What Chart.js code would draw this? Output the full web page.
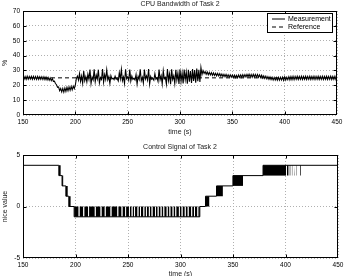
<!DOCTYPE html>
<html><head><meta charset="utf-8">
<script src="https://cdn.jsdelivr.net/npm/chart.js@4/dist/chart.umd.min.js"></script>
<style>
html,body{margin:0;padding:0;background:#fff;overflow:hidden;}
#wrap{position:relative;width:348px;height:276px;overflow:hidden;font-family:"Liberation Sans",Arial,Helvetica,sans-serif;}
.ttl{position:absolute;left:23px;width:314px;text-align:center;font-size:7px;color:#222;line-height:8px;white-space:nowrap;}
#c1{position:absolute;left:0;top:0;}
#c2{position:absolute;left:0;top:138px;}
#legend{position:absolute;left:267px;top:13px;width:64px;height:18px;border:1px solid #000;background:#fff;font-size:7px;color:#000;}
#legend .row{position:absolute;left:0;height:8px;line-height:8px;white-space:nowrap;}
#legend svg{position:absolute;left:4px;top:3px;}
#legend span{position:absolute;left:20px;top:0;}
</style></head><body>
<div id="wrap">
<canvas id="c1" width="348" height="138"></canvas>
<canvas id="c2" width="348" height="142"></canvas>
<div class="ttl" style="top:0px">CPU Bandwidth of Task 2</div>
<div class="ttl" style="top:143px">Control Signal of Task 2</div>
<div id="legend"></div>
</div>
<script>
// ---------- DATA ----------
const measStart = 150;   // first sample time (s)
const measStep = 1;      // sampling period (s)
const measValues = [
26.0,24.1,25.9,24.0,26.1,24.1,25.9,24.2,26.0,24.0,
26.0,24.1,25.9,24.0,26.0,24.0,25.8,24.1,25.8,23.9,
25.7,23.8,25.5,23.6,25.3,23.4,25.0,23.1,24.5,22.7,
22.8,21.2,20.4,18.7,18.9,16.4,17.8,15.6,17.9,15.4,
18.2,15.9,18.6,16.3,18.9,16.6,19.2,16.9,19.4,17.8,
20.1,24.6,26.2,23.5,27.9,22.6,26.2,21.4,29.6,23.1,
25.8,22.3,27.4,24.1,30.6,21.2,25.5,23.6,30.8,22.4,
26.8,24.2,30.5,21.6,25.2,23.9,30.9,22.1,27.2,24.0,
30.4,23.6,25.8,21.3,26.4,24.2,24.9,23.8,26.1,24.1,
24.6,22.9,28.4,24.3,30.7,23.1,25.6,21.2,30.8,24.4,
25.7,23.3,30.6,22.8,26.2,24.0,24.8,23.6,27.2,20.8,
26.0,23.9,30.8,23.1,25.4,21.5,30.6,24.2,26.3,23.5,
30.9,20.9,25.9,24.0,24.6,23.4,27.8,24.1,25.1,22.6,
30.6,23.8,26.4,20.9,29.7,24.3,25.3,20.8,30.9,23.2,
27.6,20.7,30.8,24.0,26.4,21.2,30.4,23.5,28.2,20.9,
30.7,22.6,28.3,21.3,30.6,23.8,28.9,21.0,30.5,22.4,
29.6,21.5,30.9,23.0,30.2,21.7,31.3,22.8,30.4,22.2,
32.0,27.2,29.9,28.0,29.3,27.4,29.0,27.1,28.7,27.0,
28.5,26.7,28.3,26.6,28.1,26.4,28.0,26.3,27.8,26.1,
27.6,25.9,27.4,25.8,27.3,25.6,27.1,25.5,27.0,25.4,
26.9,25.3,26.8,25.2,26.7,25.1,26.9,25.3,27.0,25.4,
27.1,25.5,27.2,25.6,27.3,25.7,27.4,25.6,27.3,25.5,
27.4,25.6,27.3,25.5,27.2,25.4,27.0,25.2,26.8,24.9,
26.4,24.6,26.1,24.3,25.8,24.0,25.6,23.8,25.4,23.6,
25.3,23.5,25.2,23.4,25.3,23.5,25.4,23.6,25.5,23.3,
25.7,23.5,25.4,23.7,25.8,23.6,25.9,23.8,26.0,23.8,
26.0,24.0,26.1,23.9,26.0,24.0,26.1,23.9,26.0,24.0,
26.1,23.9,26.0,24.0,26.1,23.9,26.0,24.0,26.1,23.9,
26.0,24.0,26.1,23.9,26.0,24.0,26.1,23.9,26.0,24.0,
26.1,23.9,26.0,24.0,26.1,23.9,26.0,24.0,26.1,23.9,
25.9
];
const refTime = [150, 450];
const refValues = [25, 25];

// control signal: level held from each switch time onward
const ctrlTime  = [150, 184.1, 187.2, 190.8, 193.6, 198.7, 318.4, 323.8, 334.3, 349.9, 378.6, 450];
const ctrlLevel = [4,   3,     2,     1,     0,     -1,    0,     1,     2,     3,     4,     4];

// intervals of rapid switching between two levels: [start, end, low, high]
const switchBlocks = [
[184.1,186.0,3,4],[187.2,188.5,2,3],[190.8,192.7,1,2],[193.6,195.5,0,1],
[198.7,203.0,-1,0],[203.8,207.4,-1,0],[208.3,212.1,-1,0],[212.9,218.4,-1,0],[219.2,223.9,-1,0],
[224.7,227.9,-1,0],[228.7,233.4,-1,0],[234.2,239.9,-1,0],[240.7,243.9,-1,0],[244.7,247.4,-1,0],
[248.2,250.9,-1,0],[251.7,253.5,-1,0],[254.3,255.9,-1,0],[256.7,259.1,-1,0],[259.9,261.5,-1,0],
[262.3,264.7,-1,0],[265.5,267.1,-1,0],[267.9,269.9,-1,0],[270.7,272.5,-1,0],[273.3,275.7,-1,0],
[276.5,278.3,-1,0],[279.1,281.1,-1,0],[281.9,283.7,-1,0],[284.5,286.9,-1,0],[287.7,289.5,-1,0],
[290.3,292.5,-1,0],[293.3,295.1,-1,0],[295.9,298.5,-1,0],[299.3,301.1,-1,0],[301.9,304.1,-1,0],
[304.9,306.9,-1,0],[307.7,310.3,-1,0],[311.1,312.9,-1,0],[313.7,316.1,-1,0],[316.9,318.4,-1,0],
[323.8,327.6,0,1],[334.3,340.4,1,2],[349.9,359.5,2,3],
[378.6,400.5,3,4],[401.3,403.0,3,4],[403.8,404.8,3,4],[406.0,406.7,3,4],[408.2,408.8,3,4],
[410.4,411.0,3,4],[413.8,414.6,3,4]
];

const xTicks = [150, 200, 250, 300, 350, 400, 450];
const yTicksTop = [0, 10, 20, 30, 40, 50, 60, 70];
const yTicksBottom = [-5, 0, 5];

// ---------- CHARTS ----------
const FAM = '"Liberation Sans", Arial, Helvetica, sans-serif';
const tickFont = {family: FAM, size: 6.5};
const titleFont = {family: FAM, size: 7};

const framePlugin = {
  id: 'frame',
  afterDraw(c) {
    const a = c.chartArea, ctx = c.ctx;
    ctx.save();
    ctx.strokeStyle = '#000';
    ctx.lineWidth = 1;
    const L = Math.round(a.left) + 0.5, T = Math.round(a.top) + 0.5;
    const R = Math.round(a.right) - 0.5, B = Math.round(a.bottom) - 0.5;
    ctx.strokeRect(L, T, R - L, B - T);
    ctx.beginPath();
    const xs = c.scales.x, ys = c.scales.y;
    xs.ticks.forEach(t => {
      const p = Math.round(xs.getPixelForValue(t.value)) + 0.5;
      if (p <= L + 1 || p >= R - 1) return;
      ctx.moveTo(p, B); ctx.lineTo(p, B - 3);
      ctx.moveTo(p, T); ctx.lineTo(p, T + 3);
    });
    ys.ticks.forEach(t => {
      const p = Math.round(ys.getPixelForValue(t.value)) + 0.5;
      if (p <= T + 1 || p >= B - 1) return;
      ctx.moveTo(L, p); ctx.lineTo(L + 3, p);
      ctx.moveTo(R, p); ctx.lineTo(R - 3, p);
    });
    ctx.stroke();
    ctx.restore();
  }
};

function makeScales(yMin, yMax, yTickList, yTitle, xHeight) {
  return {
    x: {
      type: 'linear', min: 150, max: 450,
      afterBuildTicks: s => { s.ticks = xTicks.map(v => ({value: v})); },
      afterFit: s => { s.height = xHeight; },
      ticks: {font: tickFont, color: '#000', padding: 3, maxRotation: 0, autoSkip: false},
      grid: {color: '#b0b0b0', lineWidth: 1, drawTicks: false},
      border: {display: false, dash: [1, 2]},
      title: {display: true, text: 'time (s)', font: titleFont, color: '#222', padding: {top: 0, bottom: 2}}
    },
    y: {
      type: 'linear', min: yMin, max: yMax,
      afterBuildTicks: s => { s.ticks = yTickList.map(v => ({value: v})); },
      afterFit: s => { s.width = 23; },
      ticks: {font: tickFont, color: '#000', padding: 3, autoSkip: false},
      grid: {color: '#b0b0b0', lineWidth: 1, drawTicks: false},
      border: {display: false, dash: [1, 2]},
      title: {display: true, text: yTitle, font: titleFont, color: '#222', padding: {top: 1, bottom: 0}}
    }
  };
}

const common = {
  responsive: false, animation: false, devicePixelRatio: 1,
  plugins: {legend: {display: false}, tooltip: {enabled: false}, title: {display: false}},
  elements: {point: {radius: 0}}
};

const measData = measValues.map((v, i) => ({x: measStart + i * measStep, y: v}));
const refData = refTime.map((t, i) => ({x: t, y: refValues[i]}));

const ds1 = [
  {label: 'Measurement', data: measData, borderColor: '#000', borderWidth: 1.1, fill: false, pointRadius: 0},
  {label: 'Reference', data: refData, borderColor: '#000', borderWidth: 1, borderDash: [4, 3], fill: false, pointRadius: 0}
];

new Chart(document.getElementById('c1'), {
  type: 'line',
  data: {datasets: ds1},
  options: Object.assign({}, common, {
    layout: {padding: {left: 0, top: 11, right: 11, bottom: 0}},
    scales: makeScales(0, 70, yTicksTop, '%', 23)
  }),
  plugins: [framePlugin]
});

const ctrlData = ctrlTime.map((t, i) => ({x: t, y: ctrlLevel[i]}));
const ds2 = [
  {label: 'nice value', data: ctrlData, stepped: 'before', borderColor: '#000', borderWidth: 1, fill: false, pointRadius: 0}
];
switchBlocks.forEach(b => {
  ds2.push({
    label: 'switching', data: [{x: b[0], y: b[3]}, {x: b[1], y: b[3]}],
    borderWidth: 0, borderColor: 'rgba(0,0,0,0)', backgroundColor: '#000',
    fill: {value: b[2]}, pointRadius: 0
  });
});

new Chart(document.getElementById('c2'), {
  type: 'line',
  data: {datasets: ds2},
  options: Object.assign({}, common, {
    layout: {padding: {left: 0, top: 17, right: 10, bottom: 0}},
    scales: makeScales(-5, 5, yTicksBottom, 'nice value', 22)
  }),
  plugins: [framePlugin]
});

// ---------- legend (HTML) ----------
const lg = document.getElementById('legend');
ds1.forEach((d, i) => {
  const row = document.createElement('div');
  row.className = 'row';
  row.style.top = (1 + i * 8) + 'px';
  row.style.width = '64px';
  const dash = d.borderDash ? d.borderDash.join(' ') : 'none';
  row.innerHTML = '<svg width="13" height="2"><line x1="0" y1="1" x2="13" y2="1" stroke="#000" stroke-width="1" stroke-dasharray="' + dash + '"/></svg><span>' + d.label + '</span>';
  lg.appendChild(row);
});
</script>
</body></html>
